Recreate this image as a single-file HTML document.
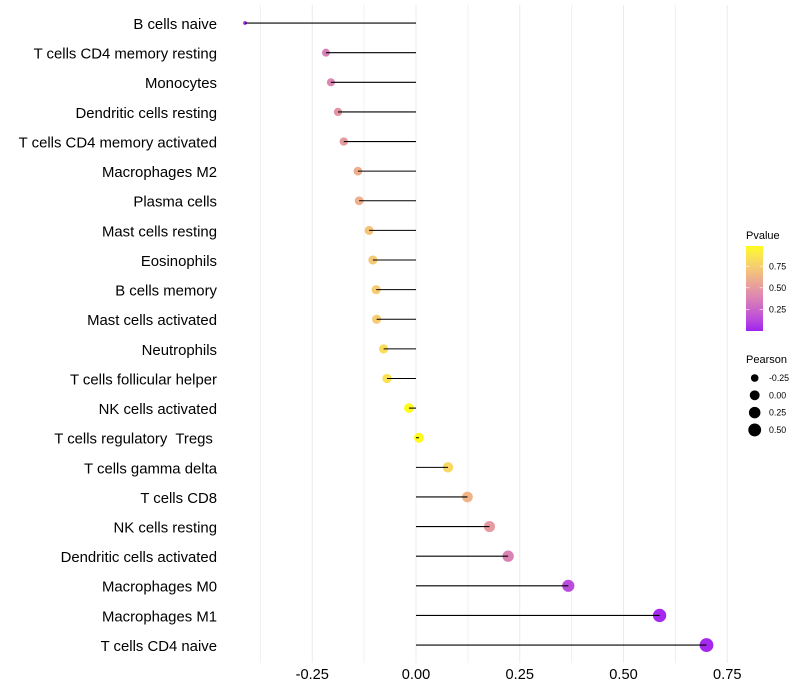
<!DOCTYPE html>
<html lang="en">
<head>
<meta charset="utf-8">
<title>Pearson lollipop chart</title>
<style>
html,body{margin:0;padding:0;background:#fff;}
svg{display:block;font-family:"Liberation Sans",sans-serif;}
</style>
</head>
<body>
<svg id="chart" xmlns="http://www.w3.org/2000/svg" width="800" height="700" viewBox="0 0 800 700">
<defs><linearGradient id="pvalue-gradient" x1="0" y1="1" x2="0" y2="0"></linearGradient></defs>
<rect width="800" height="700" fill="#ffffff"/>
<g id="grid"></g>
<g id="marks"></g>
<g id="yaxis"></g>
<g id="xaxis"></g>
<g id="legend-color"></g>
<g id="legend-size"></g>
</svg>
<script>
var categories = ["B cells naive","T cells CD4 memory resting","Monocytes","Dendritic cells resting","T cells CD4 memory activated","Macrophages M2","Plasma cells","Mast cells resting","Eosinophils","B cells memory","Mast cells activated","Neutrophils","T cells follicular helper","NK cells activated","T cells regulatory  Tregs ","T cells gamma delta","T cells CD8","NK cells resting","Dendritic cells activated","Macrophages M0","Macrophages M1","T cells CD4 naive"];
var pearson = [-0.412,-0.217,-0.205,-0.188,-0.174,-0.140,-0.137,-0.113,-0.104,-0.096,-0.095,-0.078,-0.070,-0.017,0.007,0.077,0.124,0.177,0.222,0.367,0.587,0.700];
var pvalue = [0.02,0.37,0.40,0.47,0.50,0.60,0.60,0.70,0.73,0.74,0.74,0.83,0.85,0.98,0.98,0.80,0.63,0.50,0.38,0.14,0.02,0.02];
var xMajorTicks = [-0.25,0,0.25,0.5,0.75];
var xMinorTicks = [-0.375,-0.125,0.125,0.375,0.625];
var xTickLabels = ["-0.25","0.00","0.25","0.50","0.75"];
var pTicks = [0.25,0.5,0.75];
var pTickLabels = ["0.25","0.50","0.75"];
var sizeBreaks = [-0.25,0,0.25,0.5];
var sizeLabels = ["-0.25","0.00","0.25","0.50"];

var NS = "http://www.w3.org/2000/svg";
function make(tag, attrs, parent, text) {
  var el = document.createElementNS(NS, tag);
  for (var k in attrs) el.setAttribute(k, attrs[k]);
  if (text !== undefined) el.textContent = text;
  parent.appendChild(el);
  return el;
}
function xScale(v) { return 416 + v * 415; }
function yScale(i) { return 23.05 + i * 29.62; }
function pScale(p) { return 331 - p * 86.4; }
var sizeMin = -0.412, sizeMax = 0.70;
function rScale(v) {
  var t = Math.max(0, Math.min(1, (v - sizeMin) / (sizeMax - sizeMin)));
  return 1.9 + Math.sqrt(t) * 5;
}
function srgbToLin(c) { c /= 255; return c <= 0.04045 ? c / 12.92 : Math.pow((c + 0.055) / 1.055, 2.4); }
function linToSrgb(c) { c = c <= 0.0031308 ? 12.92 * c : 1.055 * Math.pow(c, 1 / 2.4) - 0.055; return Math.round(Math.max(0, Math.min(1, c)) * 255); }
function rgbToLab(rgb) {
  var r = srgbToLin(rgb[0]), g = srgbToLin(rgb[1]), b = srgbToLin(rgb[2]);
  var X = (0.4124 * r + 0.3576 * g + 0.1805 * b) / 0.95047, Y = 0.2126 * r + 0.7152 * g + 0.0722 * b, Z = (0.0193 * r + 0.1192 * g + 0.9505 * b) / 1.08883;
  function f(t) { return t > 0.008856 ? Math.cbrt(t) : 7.787 * t + 16 / 116; }
  return [116 * f(Y) - 16, 500 * (f(X) - f(Y)), 200 * (f(Y) - f(Z))];
}
function labToCss(l) {
  var fy = (l[0] + 16) / 116, fx = fy + l[1] / 500, fz = fy - l[2] / 200;
  function g(t) { return t * t * t > 0.008856 ? t * t * t : (t - 16 / 116) / 7.787; }
  var X = g(fx) * 0.95047, Y = g(fy), Z = g(fz) * 1.08883;
  var r = 3.2406 * X - 1.5372 * Y - 0.4986 * Z, gr = -0.9689 * X + 1.8758 * Y + 0.0415 * Z, b = 0.0557 * X - 0.204 * Y + 1.057 * Z;
  return "rgb(" + linToSrgb(r) + "," + linToSrgb(gr) + "," + linToSrgb(b) + ")";
}
var labLow = rgbToLab([160, 32, 240]), labHigh = rgbToLab([255, 255, 0]);
function colorScale(p) {
  return labToCss([0, 1, 2].map(function (i) { return labLow[i] + (labHigh[i] - labLow[i]) * p; }));
}

var grid = document.getElementById("grid");
xMinorTicks.forEach(function (t) {
  var gl = make("line", { x1: xScale(t), x2: xScale(t), y1: 5, y2: 663, stroke: "#f0f0f0", "stroke-width": 1 }, grid);
  
  
});
xMajorTicks.forEach(function (t) {
  var gl = make("line", { x1: xScale(t), x2: xScale(t), y1: 5, y2: 663, stroke: "#ebebeb", "stroke-width": 1 }, grid);
  
  
});

var marks = document.getElementById("marks");
categories.forEach(function (c, i) {
  var y = yScale(i);
  var dot = make("circle", { cx: xScale(pearson[i]), cy: y, r: rScale(pearson[i]), fill: colorScale(pvalue[i]) }, marks);
  
  
  var stem = make("line", { x1: xScale(0), x2: xScale(pearson[i]), y1: y, y2: y, stroke: "#000", "stroke-width": 1.07 }, marks);
  
  
});

var yaxis = document.getElementById("yaxis");
categories.forEach(function (c, i) {
  var label = make("text", { x: 217, y: yScale(i) + 5.9, "text-anchor": "end", "font-size": 14.9, fill: "#000", "xml:space": "preserve", style: "white-space:pre" }, yaxis, c);
  
  
});

var xaxis = document.getElementById("xaxis");
xMajorTicks.forEach(function (t, i) {
  var label = make("text", { x: xScale(t), y: 679, "text-anchor": "middle", "font-size": 14.6, fill: "#000" }, xaxis, xTickLabels[i]);
  
  
});

var grad = document.getElementById("pvalue-gradient");
for (var s = 0; s <= 40; s++) {
  make("stop", { offset: s / 40, "stop-color": colorScale(s / 40 * 0.985) }, grad);
}
var lc = document.getElementById("legend-color");
var lcTitle = make("text", { x: 746, y: 239, "font-size": 11, fill: "#000" }, lc, "Pvalue");


var bar = make("rect", { x: 746, y: 246, width: 17, height: 85, fill: "url(#pvalue-gradient)" }, lc);


pTicks.forEach(function (p, i) {
  var y = pScale(p);
  var t1 = make("line", { x1: 746, x2: 749.4, y1: y, y2: y, stroke: "#fff", "stroke-width": 0.6 }, lc);
  
  
  var t2 = make("line", { x1: 759.6, x2: 763, y1: y, y2: y, stroke: "#fff", "stroke-width": 0.6 }, lc);
  
  
  var lb = make("text", { x: 769, y: y + 3.1, "font-size": 8.8, fill: "#000" }, lc, pTickLabels[i]);
  
  
});

var ls = document.getElementById("legend-size");
var lsTitle = make("text", { x: 746, y: 363, "font-size": 11, fill: "#000" }, ls, "Pearson");


sizeBreaks.forEach(function (v, i) {
  var y = 378 + i * 17.3;
  var key = make("circle", { cx: 754.7, cy: y, r: rScale(v), fill: "#000" }, ls);
  
  
  var lb = make("text", { x: 769, y: y + 3.1, "font-size": 8.8, fill: "#000" }, ls, sizeLabels[i]);
  
  
});
</script>
</body>
</html>
